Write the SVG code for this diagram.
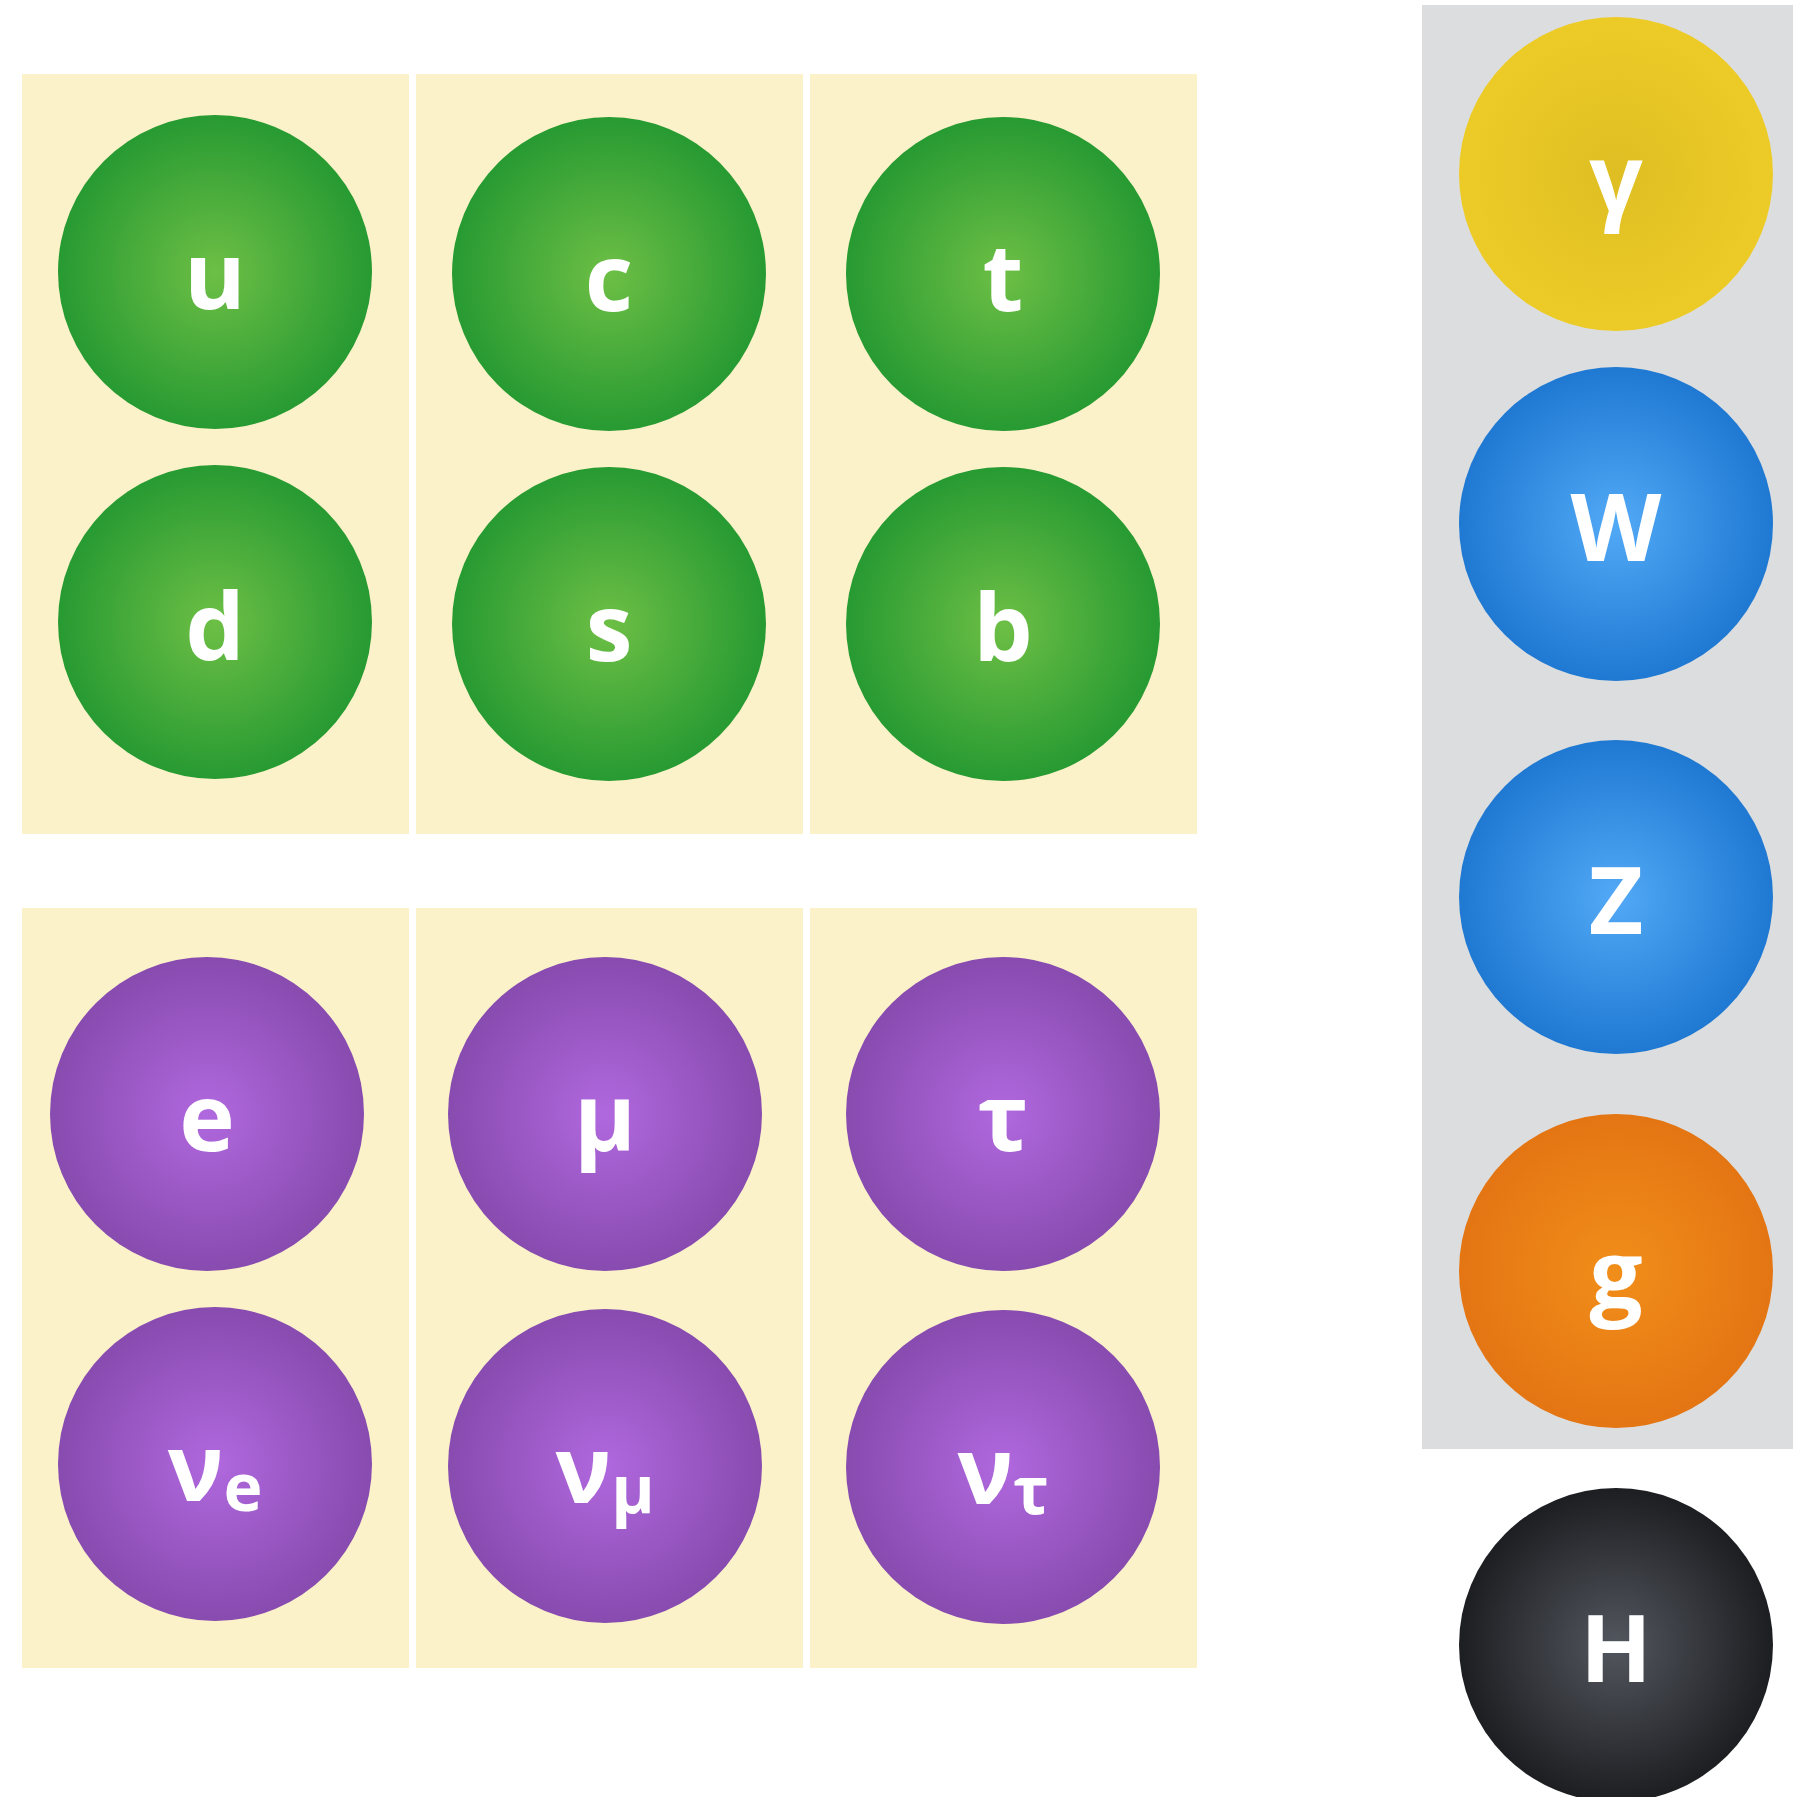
<svg xmlns="http://www.w3.org/2000/svg" width="1793" height="1797" viewBox="0 0 1793 1797">
<defs>
<radialGradient id="gGreen" cx="50%" cy="50%" r="50%"><stop offset="0" stop-color="#6DBF45"/><stop offset="1" stop-color="#279A32"/></radialGradient>
<radialGradient id="gPurple" cx="50%" cy="50%" r="50%"><stop offset="0" stop-color="#B068DE"/><stop offset="1" stop-color="#884BAF"/></radialGradient>
<radialGradient id="gBlue" cx="50%" cy="50%" r="50%"><stop offset="0" stop-color="#52A9F6"/><stop offset="1" stop-color="#1F79D2"/></radialGradient>
<radialGradient id="gYellow" cx="50%" cy="50%" r="50%"><stop offset="0" stop-color="#DEBE23"/><stop offset="1" stop-color="#EDCB27"/></radialGradient>
<radialGradient id="gOrange" cx="50%" cy="50%" r="50%"><stop offset="0" stop-color="#F18E1A"/><stop offset="1" stop-color="#E47513"/></radialGradient>
<radialGradient id="gBlack" cx="50%" cy="50%" r="50%"><stop offset="0" stop-color="#52565E"/><stop offset="1" stop-color="#1D1E21"/></radialGradient>
</defs>
<style>
.panel{fill:#FBF2CA}
.gpanel{fill:#DCDDDF}
.lbl{font-family:"Open Sans","Noto Sans","DejaVu Sans",sans-serif;font-weight:700;font-size:94px;fill:#FFFFFF;text-anchor:middle}
.sub{font-size:66px}
.green{fill:url(#gGreen)}
.purple{fill:url(#gPurple)}
.blue{fill:url(#gBlue)}
.yellow{fill:url(#gYellow)}
.orange{fill:url(#gOrange)}
.black{fill:url(#gBlack)}
</style>
<g id="panels">
<rect class="panel" x="22" y="74" width="387" height="760"/>
<rect class="panel" x="416" y="74" width="387" height="760"/>
<rect class="panel" x="810" y="74" width="387" height="760"/>
<rect class="panel" x="22" y="908" width="387" height="760"/>
<rect class="panel" x="416" y="908" width="387" height="760"/>
<rect class="panel" x="810" y="908" width="387" height="760"/>
<rect class="gpanel" x="1422" y="5" width="371" height="1444"/>
</g>
<g id="connectors"/>
<g id="node-u"><circle class="green" cx="215" cy="272" r="157"/><text class="lbl" x="215" y="309">u</text></g>
<g id="node-d"><circle class="green" cx="215" cy="622" r="157"/><text class="lbl" x="215" y="660">d</text></g>
<g id="node-c"><circle class="green" cx="609" cy="274" r="157"/><text class="lbl" x="609" y="311">c</text></g>
<g id="node-s"><circle class="green" cx="609" cy="624" r="157"/><text class="lbl" x="609" y="661">s</text></g>
<g id="node-t"><circle class="green" cx="1003" cy="274" r="157"/><text class="lbl" x="1003" y="311">t</text></g>
<g id="node-b"><circle class="green" cx="1003" cy="624" r="157"/><text class="lbl" x="1003" y="661">b</text></g>
<g id="node-e"><circle class="purple" cx="207" cy="1114" r="157"/><text class="lbl" x="207" y="1151">e</text></g>
<g id="node-mu"><circle class="purple" cx="605" cy="1114" r="157"/><text class="lbl" x="605" y="1151">μ</text></g>
<g id="node-tau"><circle class="purple" cx="1003" cy="1114" r="157"/><text class="lbl" x="1003" y="1151">τ</text></g>
<g id="node-nue"><circle class="purple" cx="215" cy="1464" r="157"/><text class="lbl" x="215" y="1501">ν<tspan class="sub" dy="10">e</tspan></text></g>
<g id="node-numu"><circle class="purple" cx="605" cy="1466" r="157"/><text class="lbl" x="605" y="1503">ν<tspan class="sub" dy="10">μ</tspan></text></g>
<g id="node-nutau"><circle class="purple" cx="1003" cy="1467" r="157"/><text class="lbl" x="1003" y="1504">ν<tspan class="sub" dy="10">τ</tspan></text></g>
<g id="node-gamma"><circle class="yellow" cx="1616" cy="174" r="157"/><text class="lbl" x="1616" y="212">γ</text></g>
<g id="node-W"><circle class="blue" cx="1616" cy="524" r="157"/><text class="lbl" x="1616" y="561">W</text></g>
<g id="node-Z"><circle class="blue" cx="1616" cy="897" r="157"/><text class="lbl" x="1616" y="934">Z</text></g>
<g id="node-g"><circle class="orange" cx="1616" cy="1271" r="157"/><text class="lbl" x="1616" y="1308">g</text></g>
<g id="node-H"><circle class="black" cx="1616" cy="1645" r="157"/><text class="lbl" x="1616" y="1682">H</text></g>
</svg>
